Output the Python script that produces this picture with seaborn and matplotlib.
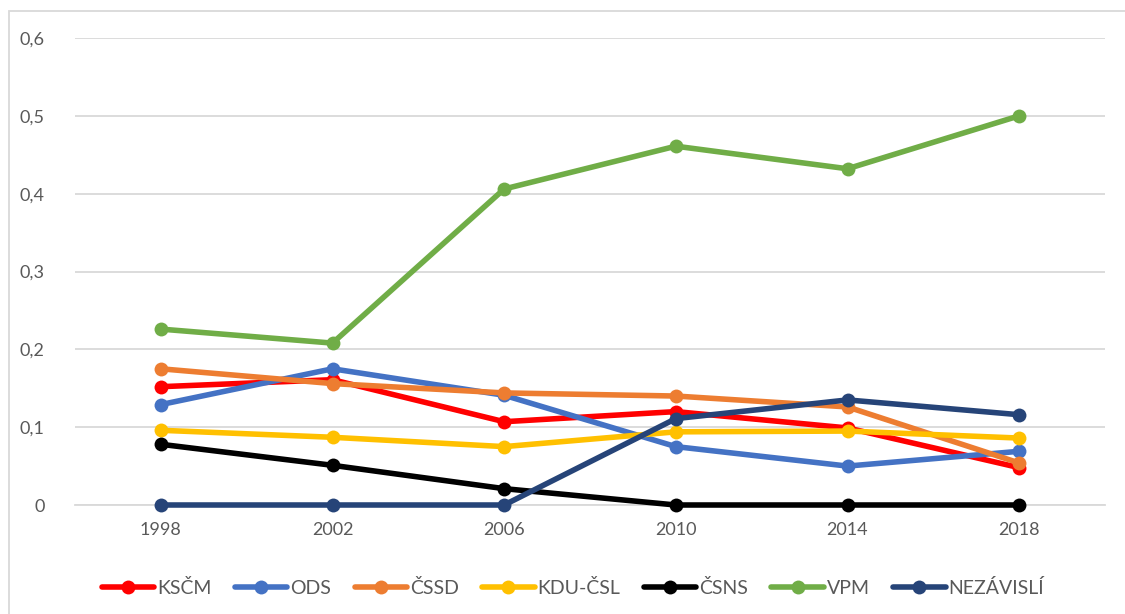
import pandas as pd
import matplotlib.pyplot as plt
import seaborn as sns
from matplotlib.patches import Rectangle

# Data
years = ["1998", "2002", "2006", "2010", "2014", "2018"]
parties = ["KSČM", "ODS", "ČSSD", "KDU-ČSL", "ČSNS", "VPM", "NEZÁVISLÍ"]
kscm = [0.152, 0.161, 0.107, 0.120, 0.099, 0.048]
ods = [0.129, 0.175, 0.141, 0.075, 0.050, 0.069]
cssd = [0.175, 0.156, 0.144, 0.140, 0.126, 0.054]
kdu = [0.096, 0.087, 0.075, 0.094, 0.095, 0.086]
csns = [0.078, 0.051, 0.021, 0.0, 0.0, 0.0]
vpm = [0.226, 0.208, 0.406, 0.461, 0.432, 0.500]
nezavisli = [0.0, 0.0, 0.0, 0.111, 0.135, 0.116]
colors = ["#FF0000", "#4472C4", "#ED7D31", "#FFC000", "#000000", "#70AD47", "#264478"]

series = [kscm, ods, cssd, kdu, csns, vpm, nezavisli]
rows = []
for party, vals in zip(parties, series):
    for yr, v in zip(years, vals):
        rows.append({"rok": yr, "strana": party, "podil": v})
df = pd.DataFrame(rows)

sns.set_theme(style="white")
plt.rcParams['font.family'] = ['Lato', 'DejaVu Sans']

fig = plt.figure(figsize=(11.25, 6.14), dpi=100)
ax = fig.add_axes([75 / 1125, 1 - 505 / 614, 1030 / 1125, 467 / 614])

sns.lineplot(data=df, x="rok", y="podil", hue="strana", hue_order=parties,
             palette=colors, marker="o", markersize=10, markeredgewidth=0,
             linewidth=4, sort=False, ax=ax)
for i, ln in enumerate(ax.lines):
    ln.set_clip_on(False)
    ln.set_zorder(3 + i * 0.01)

ax.set_xlim(-0.5, 5.5)
ax.set_ylim(0, 0.6)
ax.set_yticks([0, 0.1, 0.2, 0.3, 0.4, 0.5, 0.6])
ax.set_yticklabels(["0", "0,1", "0,2", "0,3", "0,4", "0,5", "0,6"])
ax.yaxis.grid(True, color="#D9D9D9", linewidth=1.3)
ax.set_axisbelow(True)
for s in ["top", "right", "left"]:
    ax.spines[s].set_visible(False)
ax.spines["bottom"].set_color("#D9D9D9")
ax.spines["bottom"].set_linewidth(1.3)
ax.spines["bottom"].set_zorder(1)
ax.tick_params(axis="both", length=0, labelsize=13, colors="#595959")
ax.tick_params(axis="y", pad=22)
ax.tick_params(axis="x", pad=12)
ax.set_xlabel("")
ax.set_ylabel("")

leg = ax.legend(loc="upper center", bbox_to_anchor=(0.5 - 17 / 1030, -0.12), ncol=7,
                frameon=False, fontsize=14, labelcolor="#595959",
                handlelength=2.7, handletextpad=0.15, columnspacing=1.2)
for h in leg.get_lines():
    h.set_linewidth(4)
    h.set_markersize(10)

# chart-area border (cropped on the right and bottom)
fig.patches.append(Rectangle((9 / 1125, -0.1), 1.2, 1 - 11 / 614 + 0.1,
                             transform=fig.transFigure, fill=False,
                             edgecolor="#D9D9D9", linewidth=1.3))

plt.savefig("out.png", dpi=100)
